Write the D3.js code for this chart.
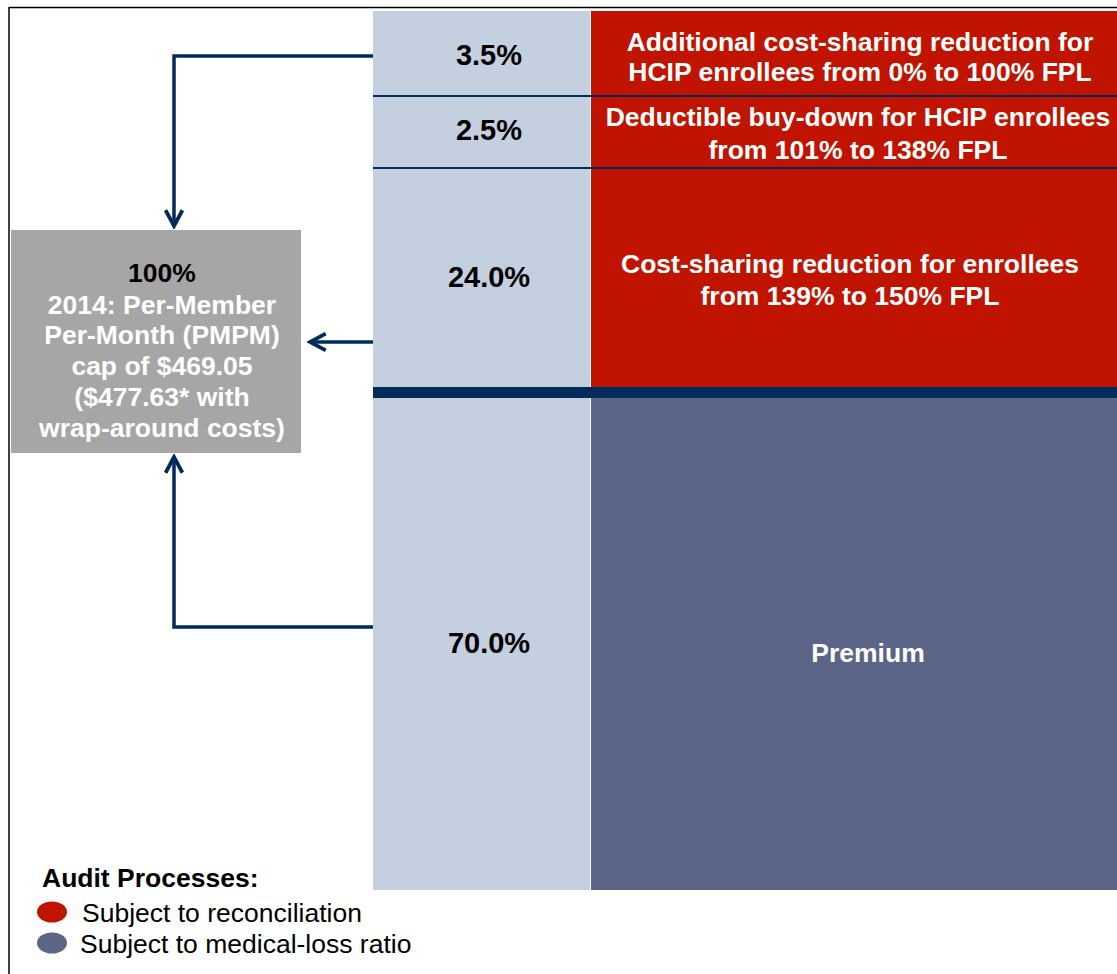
<!DOCTYPE html>
<html>
<head>
<meta charset="utf-8">
<script src="https://cdn.jsdelivr.net/npm/d3@7"></script>
<style>
  html, body { margin: 0; padding: 0; background: #fff; }
  svg { display: block; }
  text { font-family: "Liberation Sans", Arial, sans-serif; }
</style>
</head>
<body>
<svg id="chart" width="1117" height="974"></svg>
<script>
// ---- data ----
const segmentShares = [3.5, 2.5, 24.0, 70.0];
const segmentLabels = ["3.5%", "2.5%", "24.0%", "70.0%"];
const segmentAudit = ["reconciliation", "reconciliation", "reconciliation", "mlr"];
const segmentDescriptions = [
  ["Additional cost-sharing reduction for", "HCIP enrollees from 0% to 100% FPL"],
  ["Deductible buy-down for HCIP enrollees", "from 101% to 138% FPL"],
  ["Cost-sharing reduction for enrollees", "from 139% to 150% FPL"],
  ["Premium"]
];
const totalLines = ["100%", "2014: Per-Member", "Per-Month (PMPM)", "cap of $469.05", "($477.63* with", "wrap-around costs)"];
const legendTitle = "Audit Processes:";
const legendKeys = ["reconciliation", "mlr"];
const legendLabels = ["Subject to reconciliation", "Subject to medical-loss ratio"];

// ---- styles ----
const colors = { reconciliation: "#C01400", mlr: "#5B6587" };
const navy = "#012B5B";
const lightCol = "#C4D0DF";
const grayBox = "#A6A6A6";
const fsMain = 26.5;
const fsPct = 29;

const svg = d3.select("#chart");

// frame
svg.append("line").attr("x1", 9).attr("x2", 1117).attr("y1", 7.5).attr("y2", 7.5)
  .attr("stroke", "#000").attr("stroke-width", 1.5);
svg.append("line").attr("x1", 9).attr("x2", 9).attr("y1", 7).attr("y2", 974)
  .attr("stroke", "#000").attr("stroke-width", 1.5);

// cumulative boundaries
const cum = [0];
segmentShares.forEach(v => cum.push(cum[cum.length - 1] + v));
// diagram is not proportional: piecewise linear scale on cumulative share
const y = d3.scaleLinear().domain(cum).range([11, 96, 168, 392, 890]);
const xCol = d3.scaleOrdinal().domain(["pct", "desc"]).range([373, 591]);
const wCol = d3.scaleOrdinal().domain(["pct", "desc"]).range([217, 526]);

const segs = segmentShares.map((v, i) => ({
  i, v, y0: y(cum[i]), y1: y(cum[i + 1]), label: segmentLabels[i],
  desc: segmentDescriptions[i], audit: segmentAudit[i]
}));

// light percent column (whole)
svg.append("rect").attr("x", xCol("pct")).attr("y", y(0))
  .attr("width", wCol("pct")).attr("height", y(100) - y(0)).attr("fill", lightCol);

// colored description blocks
svg.selectAll("rect.desc").data(segs).enter().append("rect")
  .attr("class", "desc")
  .attr("x", xCol("desc"))
  .attr("y", d => d.y0)
  .attr("width", wCol("desc"))
  .attr("height", d => d.y1 - d.y0)
  .attr("fill", d => colors[d.audit]);

// separator lines
const thinSeps = [cum[1], cum[2]];
svg.selectAll("line.sep").data(thinSeps).enter().append("line")
  .attr("class", "sep")
  .attr("x1", 373).attr("x2", 1117)
  .attr("y1", d => y(d)).attr("y2", d => y(d))
  .attr("stroke", navy).attr("stroke-width", 2);
svg.append("rect").attr("x", 373).attr("y", y(cum[3]) - 5)
  .attr("width", 744).attr("height", 11).attr("fill", navy);

// percent labels
const pctLabelY = [55, 130, 277, 643];
svg.selectAll("text.pct").data(segs).enter().append("text")
  .attr("class", "pct")
  .attr("x", 489).attr("y", (d, i) => pctLabelY[i])
  .attr("text-anchor", "middle").attr("dominant-baseline", "central")
  .attr("font-size", fsPct).attr("font-weight", "bold").attr("fill", "#000")
  .text(d => d.label);

// description labels
const descLineY = [[42, 72], [117, 150], [264, 296], [653]];
const descCx = [860, 858, 850, 868];
segs.forEach((d, i) => {
  svg.append("g").selectAll("text").data(d.desc).enter().append("text")
    .attr("x", descCx[i]).attr("y", (t, j) => descLineY[i][j])
    .attr("text-anchor", "middle").attr("dominant-baseline", "central")
    .attr("font-size", fsMain).attr("font-weight", "bold").attr("fill", "#fff")
    .text(t => t);
});

// gray total box
svg.append("rect").attr("x", 11).attr("y", 230).attr("width", 290).attr("height", 223)
  .attr("fill", grayBox);
const totalY = [273, 305, 335, 366, 397, 428];
svg.selectAll("text.total").data(totalLines).enter().append("text")
  .attr("class", "total")
  .attr("x", 162).attr("y", (d, i) => totalY[i])
  .attr("text-anchor", "middle").attr("dominant-baseline", "central")
  .attr("font-size", fsMain).attr("font-weight", "bold")
  .attr("fill", (d, i) => i === 0 ? "#000" : "#fff")
  .text(d => d);

// arrows
const defs = svg.append("defs");
defs.append("marker").attr("id", "ah").attr("viewBox", "0 0 10 10")
  .attr("refX", 8.5).attr("refY", 5).attr("markerWidth", 6).attr("markerHeight", 6)
  .attr("markerUnits", "strokeWidth").attr("orient", "auto")
  .append("path").attr("d", "M1,1 L8.5,5 L1,9").attr("fill", "none")
  .attr("stroke", navy).attr("stroke-width", 1.8).attr("stroke-linejoin", "miter");

const arrowPaths = [
  [[373, 56], [174, 56], [174, 226]],
  [[373, 342], [310, 342]],
  [[373, 627], [174, 627], [174, 457]]
];
const line = d3.line();
svg.selectAll("path.arrow").data(arrowPaths).enter().append("path")
  .attr("class", "arrow")
  .attr("d", d => line(d))
  .attr("fill", "none").attr("stroke", navy).attr("stroke-width", 3.5)
  .attr("stroke-linejoin", "miter")
  .attr("marker-end", "url(#ah)");

// legend
svg.append("text").attr("x", 42).attr("y", 878).attr("dominant-baseline", "central")
  .attr("font-size", fsMain).attr("font-weight", "bold").attr("fill", "#000").text(legendTitle);
const legY = [912, 943];
const lg = svg.selectAll("g.leg").data(legendKeys).enter().append("g").attr("class", "leg");
lg.append("ellipse").attr("cx", 52).attr("cy", (d, i) => legY[i])
  .attr("rx", 15).attr("ry", 10.5).attr("fill", d => colors[d]);
lg.append("text").attr("x", (d, i) => i === 0 ? 82 : 80).attr("y", (d, i) => legY[i] + 1)
  .attr("dominant-baseline", "central").attr("font-size", fsMain).attr("fill", "#000")
  .text((d, i) => legendLabels[i]);
</script>
</body>
</html>
